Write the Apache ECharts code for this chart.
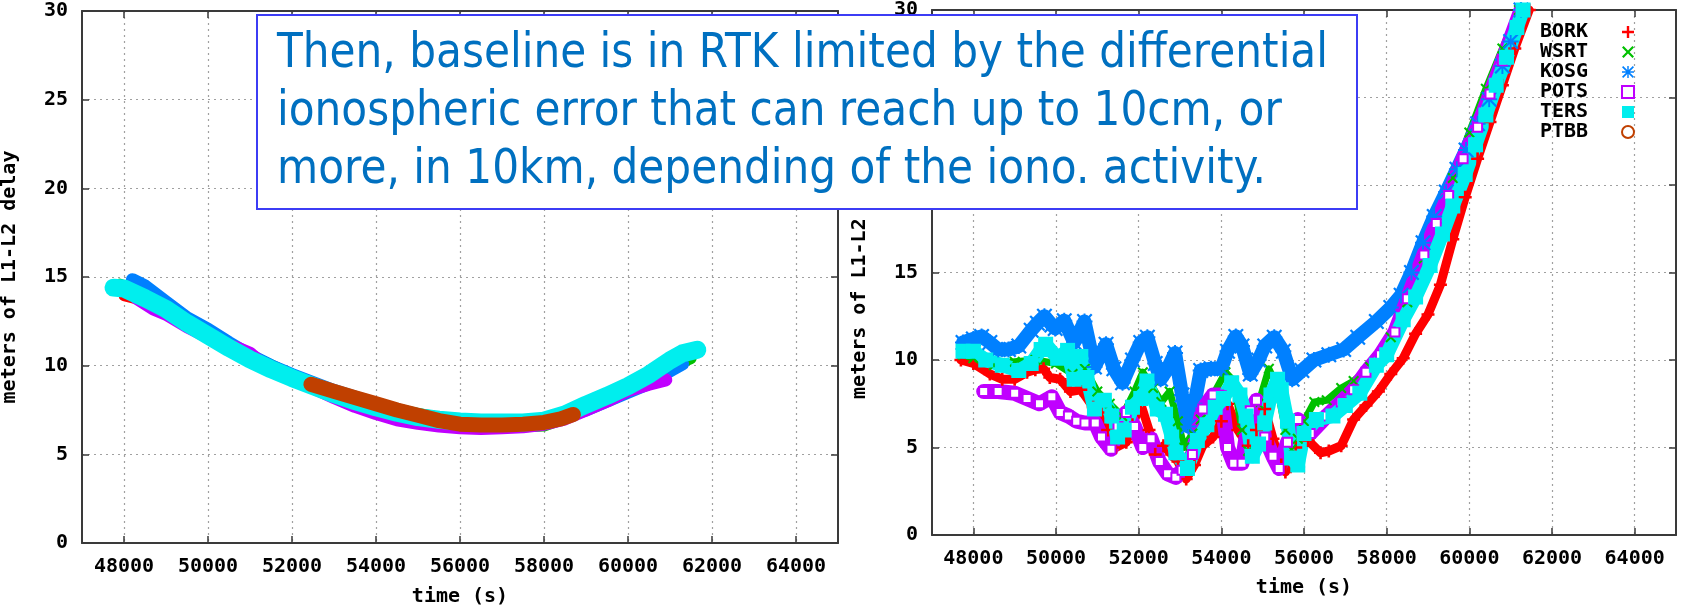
<!DOCTYPE html>
<html><head><meta charset="utf-8">
<script src="https://cdn.jsdelivr.net/npm/echarts@6/dist/echarts.min.js"></script>
<style>html,body{margin:0;padding:0;background:#fff}#c{width:1681px;height:606px}</style>
</head><body><div id="c"></div>
<script>
// ---------- data ----------
const stations = ['BORK','WSRT','KOSG','POTS','TERS','PTBB'];
const xTicks = [48000,50000,52000,54000,56000,58000,60000,62000,64000];
const titleLines = [
  'Then, baseline is in RTK limited by the differential',
  'ionospheric error that can reach up to 10cm, or',
  'more, in 10km, depending of the iono. activity.'
];
const xName = 'time (s)';
const yName = 'meters of L1-L2 delay';

// left panel
const L_BORK_t = [48000,48400,49000,50000,51000,52000,53000,54000,55000,56000,57000,58000,59000,60000,61000];
const L_BORK_v = [13.95,13.7,13.1,11.6,10.3,9.3,8.4,7.7,7.1,6.85,6.8,6.9,7.7,8.7,10.0];
const L_WSRT_t = [47900,48500,49000,50000,51000,52000,53000,54000,55000,55500,56000,56500,57000,57500,58000,58500,59000,60000,61000,61500];
const L_WSRT_v = [14.6,14.0,13.3,11.9,10.6,9.5,8.6,7.85,7.3,7.1,7.0,6.8,6.65,6.55,6.6,7.0,7.6,8.7,9.9,10.4];
const L_KOSG_t = [48200,48500,49000,49500,50000,50500,51000,51500,52000,52500,53000,54000,55000,56000,57000,58000,59000,60000,60500,61000,61300];
const L_KOSG_v = [14.85,14.5,13.6,12.7,12.05,11.3,10.6,10.0,9.5,9.05,8.6,7.85,7.2,6.9,6.85,6.8,7.5,8.5,9.0,9.7,10.1];
const L_POTS_t = [48300,48700,49000,49500,50000,50400,50700,51000,51300,51600,52000,52500,53000,53500,54000,54500,55000,55500,56000,56500,57000,57500,58000,58500,59000,59500,60000,60500,60900];
const L_POTS_v = [13.8,13.2,12.9,12.2,11.6,11.2,11.0,10.7,10.1,9.7,9.3,8.75,8.2,7.7,7.3,6.95,6.75,6.6,6.5,6.45,6.5,6.55,6.7,7.0,7.5,8.0,8.6,8.95,9.2];
const L_TERS_t = [47750,48000,48500,49000,49500,50000,50500,51000,51500,52000,52500,53000,53500,54000,54500,55000,55500,56000,56500,57000,57500,58000,58500,59000,59500,60000,60500,61000,61300,61650];
const L_TERS_v = [14.4,14.35,13.8,13.2,12.4,11.7,11.0,10.35,9.8,9.3,8.85,8.4,8.0,7.65,7.35,7.1,6.95,6.85,6.8,6.8,6.8,6.9,7.25,7.8,8.3,8.85,9.5,10.3,10.7,10.9];
const L_PTBB_t = [52450,53000,53500,54000,54500,55000,55500,56000,56500,57000,57500,58000,58400,58700];
const L_PTBB_v = [8.95,8.55,8.2,7.85,7.5,7.2,6.9,6.7,6.65,6.65,6.7,6.8,7.0,7.25];

// right panel
const R_BORK_t = [47700,48000,48400,48700,49000,49300,49500,49700,49850,50100,50350,50600,50900,51100,51250,51450,51700,51850,52050,52250,52400,52600,52800,52950,53150,53350,53550,53800,54000,54150,54400,54650,54850,55050,55250,55450,55550,55800,56100,56400,56600,56900,57200,57500,57800,58100,58400,58700,59000,59300,59600,59900,60200,60500,60800,61100,61450];
const R_BORK_v = [10.0,9.8,9.2,8.9,8.9,9.3,9.45,9.5,9.0,8.9,8.2,8.3,7.3,7.0,6.0,5.0,5.3,6.3,7.5,6.0,4.6,5.1,4.6,4.2,3.2,4.0,5.1,5.6,6.5,7.5,6.0,5.1,6.0,7.2,5.5,4.0,3.6,5.0,5.4,4.7,4.8,5.1,6.6,7.4,8.2,9.2,10.1,11.5,12.6,14.3,16.9,19.3,21.5,23.6,25.7,27.8,30.0];
const R_WSRT_t = [47750,48000,48500,49000,49500,50000,50400,50700,51000,51300,51600,51900,52100,52350,52550,52750,52950,53100,53300,53500,53800,54100,54300,54500,54650,54900,55150,55350,55550,55700,55850,56000,56250,56550,56900,57200,57600,58100,58500,58900,59200,59600,60000,60400,60800,61200];
const R_WSRT_v = [10.3,10.1,9.7,9.9,10.0,9.8,9.2,9.5,8.2,7.5,6.8,8.2,9.3,8.4,7.6,8.2,6.5,5.0,5.8,6.6,8.0,9.3,8.8,6.0,4.8,7.5,9.5,8.5,6.0,4.9,5.5,6.5,7.6,7.7,8.4,8.8,9.6,11.3,13.3,15.8,17.8,20.4,23.0,25.5,27.8,30.0];
const R_KOSG_t = [47750,48000,48200,48400,48600,48850,49100,49400,49550,49720,49900,49980,50200,50440,50690,50930,51210,51400,51610,51850,52050,52210,52400,52530,52700,52880,53050,53200,53350,53500,53750,54000,54150,54350,54500,54700,54900,55050,55280,55500,55714,55950,56240,56600,56960,57300,57750,58100,58350,58600,58880,59150,59440,59700,59920,60200,60480,60800,61000,61250];
const R_KOSG_v = [11.0,11.2,11.35,11.0,10.6,10.6,10.8,11.7,12.1,12.5,12.0,11.8,12.25,11.0,12.2,9.6,10.9,9.5,8.7,10.0,11.0,11.3,9.8,8.9,9.5,10.4,8.0,6.2,7.5,9.4,9.5,9.5,10.5,11.35,10.8,9.2,10.0,10.8,11.3,10.5,8.9,9.4,10.0,10.3,10.6,11.3,12.2,13.0,13.7,15.0,16.7,18.2,19.6,20.9,22.0,23.5,24.9,26.8,28.2,30.0];
const R_POTS_t = [48250,48600,49000,49300,49600,49900,50100,50300,50500,50700,50950,51100,51330,51500,51700,51900,52100,52300,52500,52700,52900,53050,53300,53550,53800,54000,54150,54300,54500,54700,54850,55050,55250,55400,55600,55850,56150,56550,56900,57200,57500,57850,58200,58500,58900,59200,59500,59850,60200,60500,60800,61250];
const R_POTS_v = [8.2,8.2,8.1,7.8,7.5,7.9,7.0,6.8,6.5,6.4,6.4,5.6,4.9,6.2,7.0,6.2,5.0,5.5,4.2,3.5,3.3,3.7,4.6,7.2,8.0,8.0,5.0,4.1,4.1,7.1,7.7,5.6,4.5,3.8,5.3,6.6,5.8,6.8,7.6,8.3,9.3,10.3,11.6,13.5,16.0,17.8,19.4,21.5,23.3,25.2,27.1,30.0];
const R_TERS_t = [47750,48000,48300,48700,49100,49400,49640,49750,50040,50280,50440,50600,50750,50930,51170,51350,51490,51650,51850,52050,52200,52450,52650,52800,52900,53180,53420,53650,53850,54050,54250,54450,54600,54750,54900,55050,55200,55360,55450,55600,55700,55850,56000,56300,56700,57000,57350,57750,58000,58400,58700,59050,59350,59600,59900,60150,60400,60650,60900,61150,61300];
const R_TERS_v = [10.5,10.5,10.0,9.7,9.4,9.8,10.6,10.9,10.1,10.55,8.9,10.2,9.0,7.2,7.7,6.8,5.6,6.0,7.3,7.8,8.8,7.2,6.9,5.6,4.7,3.8,5.4,6.3,7.3,7.8,8.7,8.0,6.8,4.5,5.2,6.4,8.0,8.9,8.3,6.5,4.4,4.0,5.8,6.6,6.8,7.4,8.1,9.7,10.3,12.3,13.6,15.4,17.2,18.8,20.6,22.3,24.0,25.7,27.3,29.0,30.0];
const R_PTBB_t = [];
const R_PTBB_v = [];

// ---------- styling ----------
const colors = {BORK:'#ff0000', WSRT:'#00c000', KOSG:'#0080ff', POTS:'#c000ff', TERS:'#00eeee', PTBB:'#c04000'};
const plusPath = 'path://M4,0H6V4H10V6H6V10H4V6H0V4H4Z';
const crossPath = 'path://M1.3,0L5,3.7L8.7,0L10,1.3L6.3,5L10,8.7L8.7,10L5,6.3L1.3,10L0,8.7L3.7,5L0,1.3Z';
const starPath = 'path://M4.4,0H5.6V4.4H10V5.6H5.6V10H4.4V5.6H0V4.4H4.4Z M1,0L5,4L9,0L10,1L6,5L10,9L9,10L5,6L1,10L0,9L4,5L0,1Z';
const symbols = {BORK:plusPath, WSRT:crossPath, KOSG:starPath, POTS:'emptyRect', TERS:'rect', PTBB:'emptyCircle'};
const mono = 'DejaVu Sans Mono';
const axisColor = '#3a3a3a';
const labelWeight = 'bold';

const leftWidth = {BORK:11, WSRT:11, KOSG:13, POTS:13, TERS:18, PTBB:15};
const rightWidth = {BORK:9, WSRT:7, KOSG:14, POTS:15, TERS:14, PTBB:6};
const rightSym = {BORK:13, WSRT:11, KOSG:16, POTS:9, TERS:15, PTBB:9};

const leftData = {BORK:[L_BORK_t,L_BORK_v], WSRT:[L_WSRT_t,L_WSRT_v], KOSG:[L_KOSG_t,L_KOSG_v], POTS:[L_POTS_t,L_POTS_v], TERS:[L_TERS_t,L_TERS_v], PTBB:[L_PTBB_t,L_PTBB_v]};
const rightData = {BORK:[R_BORK_t,R_BORK_v], WSRT:[R_WSRT_t,R_WSRT_v], KOSG:[R_KOSG_t,R_KOSG_v], POTS:[R_POTS_t,R_POTS_v], TERS:[R_TERS_t,R_TERS_v], PTBB:[R_PTBB_t,R_PTBB_v]};

function zip(t, v) { return t.map((x, i) => [x, v[i]]); }

const series = [];
stations.forEach(s => {
  series.push({
    name: s, type: 'line', xAxisIndex: 0, yAxisIndex: 0,
    data: zip(leftData[s][0], leftData[s][1]),
    symbol: 'none', silent: true, animation: false,
    itemStyle: {color: colors[s]},
    lineStyle: {color: colors[s], width: leftWidth[s], cap: 'round', join: 'round'}
  });
});
stations.forEach(s => {
  series.push({
    name: s, type: 'line', xAxisIndex: 2, yAxisIndex: 2,
    data: zip(rightData[s][0], rightData[s][1]),
    symbol: symbols[s], symbolSize: rightSym[s], showAllSymbol: true,
    silent: true, animation: false,
    itemStyle: {color: colors[s], borderWidth: s === 'POTS' ? 1.5 : 0},
    lineStyle: {color: colors[s], width: rightWidth[s], cap: 'round', join: 'round'}
  });
});

const grids = [
  {left: 82, top: 11, width: 756, height: 532, containLabel: false, outerBoundsMode: 'none'},
  {left: 932, top: 10, width: 744, height: 525, containLabel: false, outerBoundsMode: 'none'}
];

const textBase = {fontFamily: mono, fontSize: 20, color: '#000', fontWeight: labelWeight};

function xAxes(gi) {
  const common = {
    type: 'value', gridIndex: gi, min: 47000, max: 65000,
    axisLine: {show: true, onZero: false, lineStyle: {color: axisColor, width: 2}},
    axisTick: {show: true, inside: true, length: 7, customValues: xTicks, lineStyle: {color: axisColor, width: 1.5}}
  };
  return [
    Object.assign({}, common, {
      position: 'bottom',
      axisLabel: Object.assign({show: true, customValues: xTicks, margin: 14, formatter: v => String(v)}, textBase),
      splitLine: {show: true, lineStyle: {color: '#a0a0a0', width: 1.2, type: [2, 4]}},
      name: xName, nameLocation: 'middle', nameGap: gi === 0 ? 44 : 43,
      nameTextStyle: Object.assign({}, textBase)
    }),
    Object.assign({}, common, {
      position: 'top', axisLabel: {show: false}, splitLine: {show: false}
    })
  ];
}
function yAxes(gi) {
  const common = {
    type: 'value', gridIndex: gi, min: 0, max: 30, interval: 5,
    axisLine: {show: true, onZero: false, lineStyle: {color: axisColor, width: 2}},
    axisTick: {show: true, inside: true, length: 7, lineStyle: {color: axisColor, width: 1.5}}
  };
  return [
    Object.assign({}, common, {
      position: 'left',
      axisLabel: Object.assign({show: true, margin: 14}, textBase),
      splitLine: {show: true, lineStyle: {color: '#a0a0a0', width: 1.2, type: [2, 4]}},
      name: yName, nameLocation: 'middle', nameRotate: 90, nameGap: 62,
      nameTextStyle: Object.assign({}, textBase)
    }),
    Object.assign({}, common, {
      position: 'right', axisLabel: {show: false}, splitLine: {show: false}
    })
  ];
}

// title box text scaling (Tahoma-like width)
const ctx = document.createElement('canvas').getContext('2d');
const titleFont = 'DejaVu Sans';
ctx.font = '48px "' + titleFont + '"';
const sx = 1051 / ctx.measureText(titleLines[0]).width;
const lineY = [55, 113, 171];

const graphic = [
  {type: 'rect', z: 100, shape: {x: 257, y: 15, width: 1100, height: 194},
   style: {fill: '#ffffff', stroke: '#3c3cf5', lineWidth: 2}}
].concat(titleLines.map((t, i) => ({
  type: 'text', z: 101, x: 277, y: lineY[i], scaleX: sx,
  style: {text: t, fontFamily: titleFont, fontSize: 48, fill: '#0070c0', verticalAlign: 'middle', align: 'left'}
})));

const chart = echarts.init(document.getElementById('c'), null, {renderer: 'canvas'});
chart.setOption({
  animation: false,
  backgroundColor: '#ffffff',
  grid: grids,
  xAxis: xAxes(0).concat(xAxes(1)),
  yAxis: yAxes(0).concat(yAxes(1)),
  legend: {
    orient: 'vertical', left: 1535, top: 17, align: 'right',
    itemWidth: 12, itemHeight: 12, itemGap: 0, selectedMode: false, z: 50,
    formatter: name => '{n|' + name + '}',
    textStyle: {
      fontFamily: mono, fontSize: 20, color: '#000', fontWeight: labelWeight, lineHeight: 20,
      rich: {n: {width: 77, align: 'left', fontFamily: mono, fontSize: 20, fontWeight: labelWeight, color: '#000', lineHeight: 20}}
    },
    data: stations.map(s => ({name: s, icon: symbols[s]}))
  },
  series: series,
  graphic: graphic
});
</script></body></html>
